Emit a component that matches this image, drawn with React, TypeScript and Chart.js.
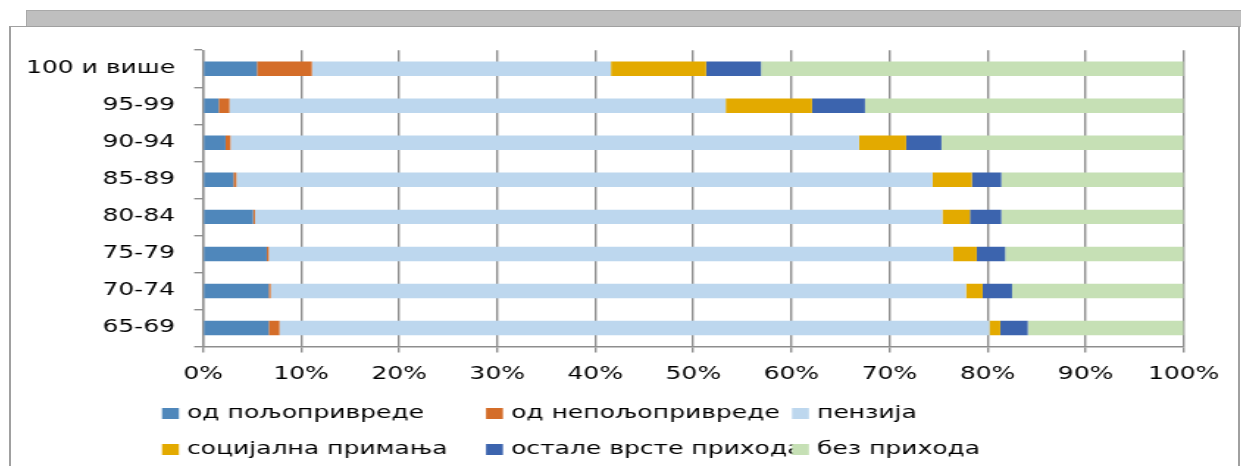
import { useEffect, useRef } from 'react';
import { Chart, registerables } from 'chart.js';

Chart.register(...registerables);

// ---- data ----
const categories = ['100 и више', '95-99', '90-94', '85-89', '80-84', '75-79', '70-74', '65-69'];
const seriesNames = ['од пољопривреде', 'од непољопривреде', 'пензија', 'социјална примања', 'остале врсте прихода', 'без прихода'];
const agriculture = [5.5, 1.6, 2.3, 3.1, 5.1, 6.5, 6.7, 6.7];
const nonAgriculture = [5.6, 1.1, 0.5, 0.3, 0.2, 0.2, 0.2, 1.1];
const pension = [30.5, 50.6, 64.1, 71.0, 70.1, 69.8, 70.9, 72.4];
const social = [9.7, 8.8, 4.8, 4.0, 2.8, 2.4, 1.7, 1.1];
const otherIncome = [5.6, 5.4, 3.6, 3.0, 3.2, 2.9, 3.0, 2.8];
const noIncome = [43.1, 32.5, 24.7, 18.6, 18.6, 18.2, 17.5, 15.9];
const xTickValues = [0, 10, 20, 30, 40, 50, 60, 70, 80, 90, 100];

// ---- styles ----
const colors = ['#4f87bb', '#d46d29', '#bdd7ee', '#e3aa00', '#3c64ae', '#c6e0b5'];
const FONT = '"DejaVu Sans", "Liberation Sans", sans-serif';
const S = 1.47; // horizontal stretch of the rendered canvas
const CANVAS_LEFT = 11;
const CANVAS_TOP = 27;
const PAGE_W = 1226;
const PAGE_H = 439;
const W = Math.round(PAGE_W / S);
const H = PAGE_H;
const toInt = (pageX: number) => (pageX - CANVAS_LEFT) / S;

const legendCols = [162, 486, 792];
const legendRows = [413.5, 449.5];

const gridLegend = {
  id: 'gridLegend',
  afterDraw(chart: any) {
    const ctx = chart.ctx;
    ctx.save();
    ctx.font = `17px ${FONT}`;
    ctx.textBaseline = 'middle';
    ctx.textAlign = 'left';
    chart.data.datasets.forEach((ds: any, i: number) => {
      const col = i % 3;
      const row = Math.floor(i / 3);
      const x = toInt(legendCols[col]);
      const y = legendRows[row] - CANVAS_TOP;
      ctx.fillStyle = ds.backgroundColor;
      ctx.fillRect(x, y - 5.5, 11.5, 11);
      ctx.fillStyle = '#000';
      ctx.fillText(ds.label, x + 17, y + 0.5);
    });
    ctx.restore();
  },
};

export default function App() {
  const ref = useRef<HTMLCanvasElement>(null);

  useEffect(() => {
    const values = [agriculture, nonAgriculture, pension, social, otherIncome, noIncome];
    const plotLeft = toInt(203);
    const plotRight = toInt(1185);
    const plotTop = 48 - CANVAS_TOP;
    const plotBottom = 346.5 - CANVAS_TOP;
    const chart = new Chart(ref.current as HTMLCanvasElement, {
      type: 'bar',
      data: {
        labels: categories,
        datasets: values.map((v, i) => ({
          label: seriesNames[i],
          data: v,
          backgroundColor: colors[i],
          borderWidth: 0,
          barPercentage: 0.39,
          categoryPercentage: 1,
        })),
      },
      options: {
        indexAxis: 'y',
        responsive: false,
        animation: false,
        devicePixelRatio: 1,
        layout: { padding: { top: plotTop, left: 0, right: W - plotRight, bottom: 0 } },
        plugins: { legend: { display: false }, tooltip: { enabled: false } },
        scales: {
          x: {
            stacked: true,
            min: 0,
            max: 100,
            afterBuildTicks: (scale: any) => {
              scale.ticks = xTickValues.map((v) => ({ value: v }));
            },
            afterFit: (scale: any) => {
              scale.height = H - plotBottom;
            },
            ticks: {
              callback: (v: any) => `${v}%`,
              color: '#000',
              font: { family: FONT, size: 17 },
              padding: 12,
              maxRotation: 0,
            },
            grid: { color: '#8e8e8e', lineWidth: 1.4, tickLength: 6, drawTicks: true },
            border: { display: true, color: '#8e8e8e', width: 1.5 },
          },
          y: {
            stacked: true,
            afterFit: (scale: any) => {
              scale.width = plotLeft;
            },
            ticks: {
              color: '#000',
              font: { family: FONT, size: 17 },
              padding: 13,
            },
            grid: { drawOnChartArea: false, color: '#8e8e8e', lineWidth: 1.4, tickLength: 6, offset: true },
            border: { display: true, color: '#8e8e8e', width: 1.4 },
          },
        },
      },
      plugins: [gridLegend],
    } as any);
    return () => chart.destroy();
  }, []);

  return (
    <div style={{ position: 'absolute', left: 0, top: 0, width: 1241, height: 466, overflow: 'hidden', background: '#fff' }}>
      <div
        style={{
          position: 'absolute', left: 26, top: 10, width: 1215, height: 17,
          background: '#bfbfbf', borderTop: '1px solid #a9a9a9', borderLeft: '1px solid #a9a9a9', boxSizing: 'border-box',
        }}
      />
      <div
        style={{
          position: 'absolute', left: 9, top: 26, width: 1231, height: 460, background: '#fff',
          borderTop: '1px solid #a0a0a0', borderLeft: '2px solid #a0a0a0', borderRight: '2px solid #a0a0a0', boxSizing: 'border-box',
        }}
      />
      <canvas
        ref={ref}
        width={W}
        height={H}
        style={{ position: 'absolute', left: CANVAS_LEFT, top: CANVAS_TOP, width: PAGE_W, height: PAGE_H }}
      />
    </div>
  );
}
